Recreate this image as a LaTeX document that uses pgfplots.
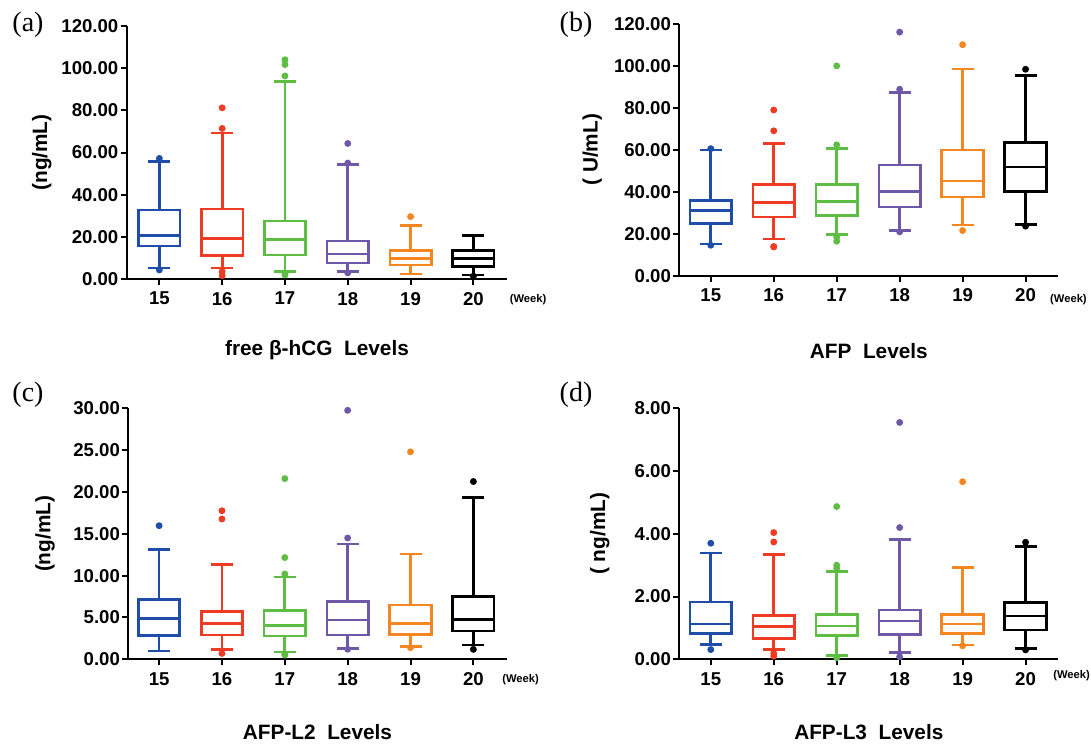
\documentclass[border=0pt]{standalone}
\usepackage{fontspec}
\setmainfont{Liberation Sans}
\newfontfamily\serifpanel{Liberation Serif}
\usepackage{pgfplots}
\pgfplotsset{compat=1.18}
\usepgfplotslibrary{statistics}

\definecolor{wkA}{RGB}{31,78,168}
\definecolor{wkB}{RGB}{238,59,35}
\definecolor{wkC}{RGB}{94,190,68}
\definecolor{wkD}{RGB}{112,88,168}
\definecolor{wkE}{RGB}{245,134,32}
\definecolor{wkF}{RGB}{0,0,0}

\pgfplotsset{
  panel/.style={
    scale only axis, axis lines=left, axis line style={-, line width=1pt},
    tick align=outside, major tick length=3pt, tick style={line width=1pt, black},
    ymin=0, xtick={15,...,20}, enlargelimits=false, clip=false,
    /pgf/number format/assume math mode=true,
    ticklabel style={font=\bfseries\fontsize{9.3}{11}\selectfont},
    yticklabel style={inner xsep=1pt, /pgf/number format/.cd, fixed, fixed zerofill, precision=2},
    label style={font=\bfseries\fontsize{10.4}{12}\selectfont},
    boxplot/draw direction=y,
  },
  bx/.style={solid, draw=#1, line width=1.35pt, mark=*, mark size=1pt,
    mark options={fill=#1, draw=none},
    boxplot/box extend=0.66, boxplot/whisker extend=0.35},
}
\tikzset{wk/.style={anchor=west, font=\bfseries\fontsize{5.6}{7}\selectfont},
  letter/.style={font=\serifpanel\fontsize{14}{15}\selectfont}}

\begin{document}
\begin{tikzpicture}
\useasboundingbox (0,0) rectangle (545.5pt,-372pt);

% (a) free beta-hCG
\begin{axis}[panel, at={(63.35pt,-139.5pt)}, anchor=south west,
  width=190.3pt, height=126.5pt, xmin=14.48, xmax=20.54, ymax=120, ytick distance=20,
  ylabel={(ng/mL)}, ylabel style={at={(axis description cs:-0.223,0.5)}, anchor=center},
  xlabel={free β-hCG\ \ Levels}, xlabel style={at={(axis description cs:0.5,-0.28)}, anchor=center}]
\addplot[bx=wkA, boxplot prepared={draw position=15, lower whisker=5.2, lower quartile=15.7, median=20.8, upper quartile=32.7, upper whisker=55.6}]
  table[row sep=\\, y index=0] {v\\ 57.2\\ 4.3\\};
\addplot[bx=wkB, boxplot prepared={draw position=16, lower whisker=5.2, lower quartile=11.3, median=19.1, upper quartile=33.2, upper whisker=69.2}]
  table[row sep=\\, y index=0] {v\\ 81.2\\ 71.4\\ 3.5\\ 1.6\\};
\addplot[bx=wkC, boxplot prepared={draw position=17, lower whisker=3.5, lower quartile=11.4, median=18.6, upper quartile=27.5, upper whisker=93.8}]
  table[row sep=\\, y index=0] {v\\ 104\\ 101.7\\ 96.3\\ 2.7\\ 1.9\\};
\addplot[bx=wkD, boxplot prepared={draw position=18, lower whisker=3.7, lower quartile=7.6, median=11.9, upper quartile=18, upper whisker=54.2}]
  table[row sep=\\, y index=0] {v\\ 64.3\\ 55\\ 2.9\\};
\addplot[bx=wkE, boxplot prepared={draw position=19, lower whisker=2.4, lower quartile=6.7, median=9.7, upper quartile=13.5, upper whisker=25.4}]
  table[row sep=\\, y index=0] {v\\ 29.6\\};
\addplot[bx=wkF, boxplot prepared={draw position=20, lower whisker=1.9, lower quartile=6.0, median=9.7, upper quartile=13.5, upper whisker=20.8}]
  table[row sep=\\, y index=0] {v\\ 1.3\\};
\node[wk] at (rel axis cs:1,0) [xshift=-2.3pt, yshift=-10.5pt] {(Week)};
\end{axis}
\node[letter] at (14pt,-12.5pt) {(a)};

% (b) AFP
\begin{axis}[panel, at={(339.65pt,-137.85pt)}, anchor=south west,
  width=189.5pt, height=126pt, xmin=14.5, xmax=20.52, ymax=120, ytick distance=20,
  ylabel={( U/mL)}, ylabel style={at={(axis description cs:-0.23,0.5)}, anchor=center},
  xlabel={AFP\ \ Levels}, xlabel style={at={(axis description cs:0.5,-0.30)}, anchor=center}]
\addplot[bx=wkA, boxplot prepared={draw position=15, lower whisker=15.1, lower quartile=24.7, median=31.2, upper quartile=35.7, upper whisker=59.9}]
  table[row sep=\\, y index=0] {v\\ 60.5\\ 14.5\\};
\addplot[bx=wkB, boxplot prepared={draw position=16, lower whisker=17.5, lower quartile=27.9, median=34.7, upper quartile=43.3, upper whisker=63.1}]
  table[row sep=\\, y index=0] {v\\ 78.9\\ 69\\ 13.7\\ 13.9\\};
\addplot[bx=wkC, boxplot prepared={draw position=17, lower whisker=19.6, lower quartile=28.8, median=35.4, upper quartile=43.5, upper whisker=60.7}]
  table[row sep=\\, y index=0] {v\\ 99.9\\ 62.3\\ 18.3\\ 16.4\\};
\addplot[bx=wkD, boxplot prepared={draw position=18, lower whisker=21.5, lower quartile=32.7, median=40, upper quartile=52.7, upper whisker=87.3}]
  table[row sep=\\, y index=0] {v\\ 116\\ 88.8\\ 20.9\\};
\addplot[bx=wkE, boxplot prepared={draw position=19, lower whisker=24.1, lower quartile=37.5, median=45.1, upper quartile=59.8, upper whisker=98.5}]
  table[row sep=\\, y index=0] {v\\ 110\\ 21.5\\};
\addplot[bx=wkF, boxplot prepared={draw position=20, lower whisker=24.4, lower quartile=40, median=51.8, upper quartile=63.4, upper whisker=95.3}]
  table[row sep=\\, y index=0] {v\\ 98.3\\ 23.6\\};
\node[wk] at (rel axis cs:1,0) [xshift=-7.6pt, yshift=-12pt] {(Week)};
\end{axis}
\node[letter] at (288pt,-12.5pt) {(b)};

% (c) AFP-L2
\begin{axis}[panel, at={(64.15pt,-329.65pt)}, anchor=south west,
  width=189.2pt, height=125.5pt, xmin=14.51, xmax=20.53, ymax=30, ytick distance=5,
  ylabel={(ng/mL)}, ylabel style={at={(axis description cs:-0.22,0.5)}, anchor=center},
  xlabel={AFP-L2\ \ Levels}, xlabel style={at={(axis description cs:0.5,-0.29)}, anchor=center}]
\addplot[bx=wkA, boxplot prepared={draw position=15, lower whisker=0.99, lower quartile=2.86, median=4.9, upper quartile=7.15, upper whisker=13.1}]
  table[row sep=\\, y index=0] {v\\ 15.97\\};
\addplot[bx=wkB, boxplot prepared={draw position=16, lower whisker=1.2, lower quartile=2.9, median=4.3, upper quartile=5.7, upper whisker=11.3}]
  table[row sep=\\, y index=0] {v\\ 17.76\\ 16.77\\ 0.7\\};
\addplot[bx=wkC, boxplot prepared={draw position=17, lower whisker=0.87, lower quartile=2.78, median=4.05, upper quartile=5.8, upper whisker=9.85}]
  table[row sep=\\, y index=0] {v\\ 21.6\\ 12.16\\ 10.2\\ 0.52\\ 0.6\\};
\addplot[bx=wkD, boxplot prepared={draw position=18, lower whisker=1.27, lower quartile=2.9, median=4.7, upper quartile=6.87, upper whisker=13.8}]
  table[row sep=\\, y index=0] {v\\ 29.76\\ 14.5\\ 1.2\\};
\addplot[bx=wkE, boxplot prepared={draw position=19, lower whisker=1.5, lower quartile=3.0, median=4.3, upper quartile=6.5, upper whisker=12.6}]
  table[row sep=\\, y index=0] {v\\ 24.8\\ 1.39\\};
\addplot[bx=wkF, boxplot prepared={draw position=20, lower whisker=1.7, lower quartile=3.38, median=4.8, upper quartile=7.47, upper whisker=19.3}]
  table[row sep=\\, y index=0] {v\\ 21.25\\ 1.19\\};
\node[wk] at (rel axis cs:1,0) [xshift=-5.7pt, yshift=-10pt] {(Week)};
\end{axis}
\node[letter] at (14pt,-197.5pt) {(c)};

% (d) AFP-L3
\begin{axis}[panel, at={(339.65pt,-329.65pt)}, anchor=south west,
  width=189.5pt, height=125.5pt, xmin=14.5, xmax=20.52, ymax=8, ytick distance=2,
  ylabel={( ng/mL)}, ylabel style={at={(axis description cs:-0.21,0.5)}, anchor=center},
  xlabel={AFP-L3\ \ Levels}, xlabel style={at={(axis description cs:0.5,-0.29)}, anchor=center}]
\addplot[bx=wkA, boxplot prepared={draw position=15, lower whisker=0.47, lower quartile=0.83, median=1.13, upper quartile=1.83, upper whisker=3.39}]
  table[row sep=\\, y index=0] {v\\ 3.7\\ 0.31\\};
\addplot[bx=wkB, boxplot prepared={draw position=16, lower whisker=0.32, lower quartile=0.66, median=1.05, upper quartile=1.39, upper whisker=3.34}]
  table[row sep=\\, y index=0] {v\\ 4.04\\ 3.74\\ 0.19\\ 0.1\\};
\addplot[bx=wkC, boxplot prepared={draw position=17, lower whisker=0.13, lower quartile=0.77, median=1.06, upper quartile=1.43, upper whisker=2.79}]
  table[row sep=\\, y index=0] {v\\ 4.87\\ 3.0\\ 2.9\\ 0.05\\};
\addplot[bx=wkD, boxplot prepared={draw position=18, lower whisker=0.22, lower quartile=0.79, median=1.22, upper quartile=1.57, upper whisker=3.82}]
  table[row sep=\\, y index=0] {v\\ 7.55\\ 4.2\\ 0.08\\};
\addplot[bx=wkE, boxplot prepared={draw position=19, lower whisker=0.46, lower quartile=0.83, median=1.13, upper quartile=1.42, upper whisker=2.93}]
  table[row sep=\\, y index=0] {v\\ 5.66\\ 0.43\\};
\addplot[bx=wkF, boxplot prepared={draw position=20, lower whisker=0.35, lower quartile=0.93, median=1.38, upper quartile=1.8, upper whisker=3.6}]
  table[row sep=\\, y index=0] {v\\ 3.73\\ 0.3\\};
\node[wk] at (rel axis cs:1,0) [xshift=-6pt, yshift=-8.3pt] {(Week)};
\end{axis}
\node[letter] at (288pt,-197.5pt) {(d)};
\end{tikzpicture}
\end{document}
